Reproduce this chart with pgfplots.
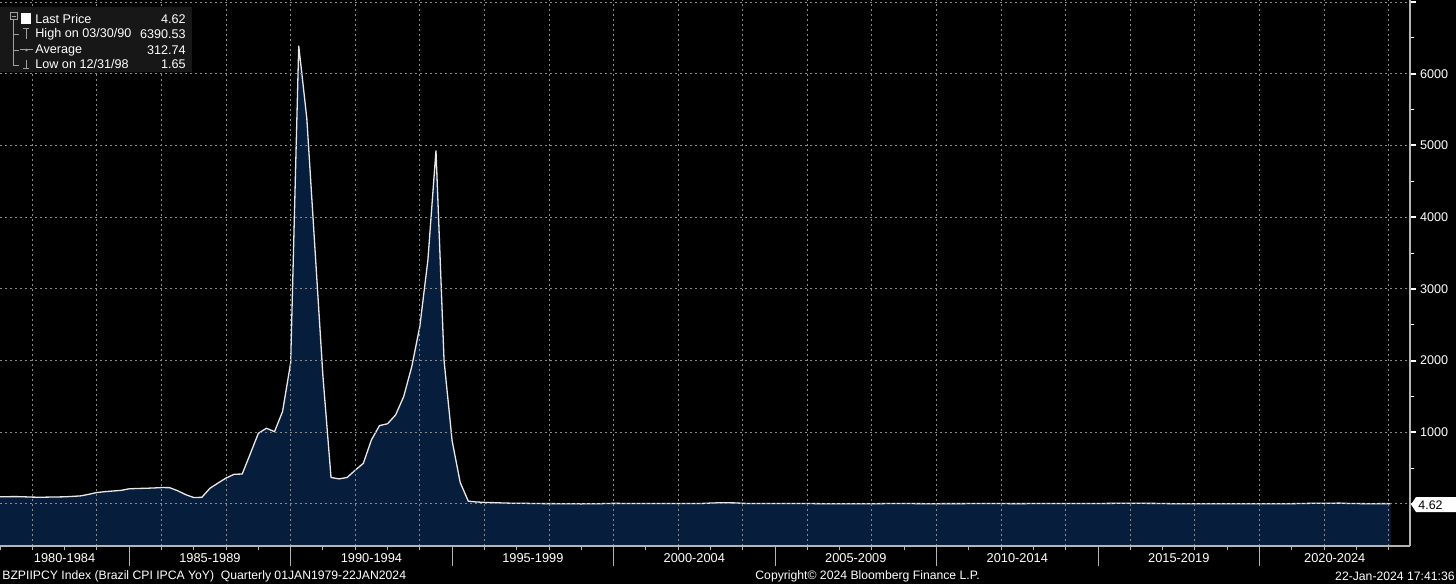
\documentclass[border=0pt]{standalone}
\usepackage{fontspec}
\setmainfont{Liberation Sans}
\usepackage{pgfplots}
\usepackage{pgfplotstable}
\pgfplotsset{compat=1.18}

\definecolor{areac}{HTML}{061D3B}
\definecolor{gridc}{HTML}{8A8A8A}
\definecolor{axisc}{HTML}{B4B4B4}
\definecolor{legbg}{HTML}{171717}
\definecolor{iconc}{HTML}{A0A0A0}
\definecolor{linec}{HTML}{E8E8E8}

% Brazil CPI IPCA YoY, quarterly
\pgfplotstableread{
t v
1981.00 100
1981.25 102
1981.50 103
1981.75 100
1982.00 96
1982.25 94
1982.50 96
1982.75 98
1983.00 100
1983.25 106
1983.50 113
1983.75 135
1984.00 160
1984.25 172
1984.50 181
1984.75 190
1985.00 212
1985.25 216
1985.50 219
1985.75 223
1986.00 229
1986.25 228
1986.50 185
1986.75 130
1987.00 90
1987.25 93
1987.50 219
1987.75 292
1988.00 362
1988.25 414
1988.50 418
1988.75 700
1989.00 986
1989.25 1056
1989.50 1009
1989.75 1290
1990.00 1970
1990.25 6390.53
1990.50 5380
1990.75 3580
1991.00 1780
1991.25 370
1991.50 350
1991.75 370
1992.00 472
1992.25 567
1992.50 893
1992.75 1093
1993.00 1119
1993.25 1242
1993.50 1498
1993.75 1916
1994.00 2477
1994.25 3405
1994.50 4930
1994.75 2000
1995.00 880
1995.25 300
1995.50 40
1995.75 28
1996.00 22.4
1996.25 19.1
1996.50 15.3
1996.75 11.8
1997.00 9.6
1997.25 9.4
1997.50 7.0
1997.75 5.4
1998.00 5.2
1998.25 4.6
1998.50 4.1
1998.75 3.1
1999.00 1.65
1999.25 3.9
1999.50 3.3
1999.75 6.2
2000.00 8.9
2000.25 7.9
2000.50 6.5
2000.75 7.9
2001.00 6.0
2001.25 6.4
2001.50 7.4
2001.75 6.5
2002.00 7.7
2002.25 7.8
2002.50 7.7
2002.75 7.9
2003.00 12.5
2003.25 16.6
2003.50 16.6
2003.75 15.1
2004.00 9.3
2004.25 5.9
2004.50 6.1
2004.75 6.7
2005.00 7.6
2005.25 7.5
2005.50 7.3
2005.75 6.0
2006.00 5.7
2006.25 5.3
2006.50 4.0
2006.75 3.7
2007.00 3.1
2007.25 3.0
2007.50 3.7
2007.75 4.2
2008.00 4.5
2008.25 4.7
2008.50 6.1
2008.75 6.3
2009.00 5.9
2009.25 5.6
2009.50 4.8
2009.75 4.3
2010.00 4.3
2010.25 5.2
2010.50 4.8
2010.75 4.7
2011.00 5.9
2011.25 6.3
2011.50 6.7
2011.75 7.3
2012.00 6.5
2012.25 5.2
2012.50 4.9
2012.75 5.3
2013.00 5.8
2013.25 6.6
2013.50 6.7
2013.75 5.9
2014.00 5.9
2014.25 6.2
2014.50 6.5
2014.75 6.8
2015.00 6.4
2015.25 8.1
2015.50 8.9
2015.75 9.5
2016.00 10.7
2016.25 9.4
2016.50 8.8
2016.75 8.5
2017.00 6.3
2017.25 4.6
2017.50 3.0
2017.75 2.5
2018.00 3.0
2018.25 2.7
2018.50 4.4
2018.75 4.5
2019.00 3.8
2019.25 4.6
2019.50 3.4
2019.75 2.9
2020.00 4.3
2020.25 3.3
2020.50 2.1
2020.75 3.1
2021.00 4.5
2021.25 6.1
2021.50 8.4
2021.75 10.3
2022.00 10.1
2022.25 11.3
2022.50 11.9
2022.75 7.2
2023.00 5.8
2023.25 4.7
2023.50 3.2
2023.75 5.2
2024.00 4.6
2024.06 4.62
}\cpi

\begin{document}
\begin{tikzpicture}
\fill[black] (0,0) rectangle (728pt,292pt);
\path[use as bounding box] (0,0) rectangle (728pt,292pt);

% x is counted in years after 1980
\begin{axis}[
    at={(0pt,19pt)}, anchor=south west,
    width=705pt, height=273pt, scale only axis,
    xmin=1, xmax=44.66,
    ymin=-586, ymax=7029,
    axis x line*=bottom, axis y line*=right,
    axis line style={draw=axisc, line width=0.6pt},
    xtick={2,4,...,44}, xticklabels={},
    every x tick/.append style={draw=none},
    ytick={0,1000,...,7000},
    yticklabels={,1000,2000,3000,4000,5000,6000,},
    minor y tick num=1,
    ytick align=outside,
    major tick length=3pt, minor tick length=2pt,
    every major y tick/.append style={white, line width=1pt},
    every minor y tick/.append style={white!80, line width=0.5pt},
    grid=major,
    major grid style={gridc, line width=0.5pt, dash pattern=on 1pt off 1.5pt},
    axis on top, clip=false,
    yticklabel style={font=\fontsize{6.3}{7}\selectfont, text=white, anchor=west, xshift=-1.5pt},
]
\addplot[fill=areac, draw=none] table[x expr=\thisrow{t}-1980, y=v] {\cpi}
    -- (axis cs:44.06,-586) -- (axis cs:1,-586) -- cycle;
\addplot[draw=linec, line width=0.65pt] table[x expr=\thisrow{t}-1980, y=v] {\cpi};

% year ticks under the bottom line
\pgfplotsinvokeforeach{1,...,44}{
    \draw[axisc, line width=0.5pt] (axis cs:#1,-586) -- ([yshift=-2pt]axis cs:#1,-586);
}
\pgfplotsinvokeforeach{5,10,...,40}{
    \draw[axisc, line width=0.5pt] (axis cs:#1,-586) -- ([yshift=-10pt]axis cs:#1,-586);
}
\begin{scope}[every node/.style={font=\fontsize{6.4}{7}\selectfont, text=white}]
\node[yshift=-6pt] at (axis cs:3,-586) {1980-1984};
\node[yshift=-6pt] at (axis cs:7.5,-586) {1985-1989};
\node[yshift=-6pt] at (axis cs:12.5,-586) {1990-1994};
\node[yshift=-6pt] at (axis cs:17.5,-586) {1995-1999};
\node[yshift=-6pt] at (axis cs:22.5,-586) {2000-2004};
\node[yshift=-6pt] at (axis cs:27.5,-586) {2005-2009};
\node[yshift=-6pt] at (axis cs:32.5,-586) {2010-2014};
\node[yshift=-6pt] at (axis cs:37.5,-586) {2015-2019};
\node[yshift=-6pt] at (axis cs:42.33,-586) {2020-2024};
\end{scope}
\end{axis}

% overlays in image pixel coordinates (origin top left)
\begin{scope}[x=0.5pt, y=-0.5pt, yshift=292pt]
  % legend panel
  \fill[legbg] (0,7) rectangle (192,72);
  \draw[iconc, line width=0.4pt] (10,12.5) rectangle (17,19.5);
  \draw[iconc, line width=0.4pt] (11.5,16) -- (15.5,16);
  \draw[iconc, line width=0.4pt] (13.5,19.5) -- (13.5,65) -- (19,65);
  \draw[iconc, line width=0.4pt] (13.5,34.5) -- (19,34.5);
  \draw[iconc, line width=0.4pt] (13.5,50) -- (19,50);
  \fill[white] (20.5,13.5) rectangle (31,24);
  \draw[iconc, line width=0.5pt] (23,29) -- (29,29) (26,29) -- (26,39);
  \draw[iconc, line width=0.5pt] (20,50) -- (33,50);
  \fill[iconc] (26.5,50) circle (1.3);
  \draw[iconc, line width=0.5pt] (26,60) -- (26,69) (23,69) -- (29,69);
  \begin{scope}[every node/.style={font=\fontsize{6.3}{7}\selectfont, text=white, inner sep=0pt}]
    \node[anchor=west] at (35,19.5) {Last Price};
    \node[anchor=west] at (35,34.5) {High on 03/30/90};
    \node[anchor=west] at (35,50) {Average};
    \node[anchor=west] at (35,64.5) {Low on 12/31/98};
    \node[anchor=east] at (186,19.5) {4.62};
    \node[anchor=east] at (186,34.5) {6390.53};
    \node[anchor=east] at (186,50) {312.74};
    \node[anchor=east] at (186,64.5) {1.65};
  \end{scope}
  % last price tag
  \fill[white] (1411,504.5) -- (1416,497) -- (1456,497) -- (1456,512) -- (1416,512) -- cycle;
  \node[anchor=west, font=\fontsize{6.2}{7}\selectfont, text=black, inner sep=0pt] at (1418,505) {4.62};
  % footer
  \begin{scope}[every node/.style={font=\fontsize{6.1}{7}\selectfont, text=white!92, inner sep=0pt}]
    \node[anchor=west] at (2,576.5) {BZPIIPCY Index (Brazil CPI IPCA YoY)\ \ Quarterly 01JAN1979-22JAN2024};
    \node[anchor=west] at (755,576.5) {Copyright© 2024 Bloomberg Finance L.P.};
    \node[anchor=east] at (1455,576.5) {22-Jan-2024 17:41:36};
  \end{scope}
\end{scope}
\end{tikzpicture}
\end{document}
